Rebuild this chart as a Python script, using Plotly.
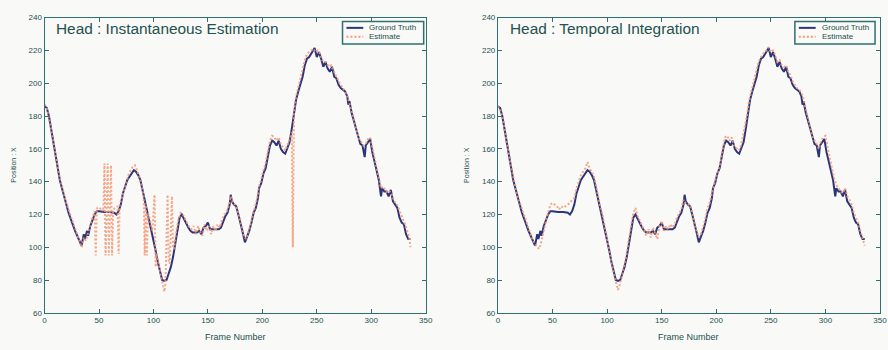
import plotly.graph_objects as go

# ---------------- data ----------------
gt_frames = [0, 2, 4, 6, 8, 10, 12, 14, 16, 18, 20, 22, 24, 26, 28, 30, 32, 34, 36, 37, 39, 40, 42, 44, 46, 48,
             50, 55, 60, 64, 66, 68, 70, 72, 74, 76, 78, 80, 82, 84, 86, 88, 90, 92, 94, 96, 98, 100, 102, 104,
             106, 108, 110, 112, 114, 116, 118, 120, 122, 124, 126, 128, 130, 132, 134, 136, 140, 142, 144, 146,
             148, 150, 152, 156, 160, 162, 164, 166, 168, 170, 171, 172, 174, 176, 178, 180, 182, 184, 186, 188,
             190, 192, 194, 196, 197, 199, 201, 203, 205, 207, 209, 211, 213, 215, 217, 219, 221, 223, 225, 227,
             229, 231, 233, 235, 237, 239, 241, 243, 245, 247, 248, 250, 252, 254, 256, 258, 260, 262, 264, 266,
             268, 270, 272, 276, 278, 279, 280, 282, 284, 286, 288, 290, 292, 294, 295, 297, 299, 301, 303, 305,
             307, 309, 310, 312, 314, 316, 318, 320, 322, 324, 326, 328, 330, 332, 334, 336]
gt_values = [186, 185, 180, 172, 164, 156, 147, 141, 136, 130, 126, 121, 117, 114, 110, 107, 104, 101, 108, 105,
             110, 107, 113, 117, 120, 122, 122, 121.5, 121.5, 121, 120, 122, 126, 133, 137, 141, 143, 145, 147, 146,
             144, 141, 135, 129, 122, 118, 112, 105, 98, 91, 85, 80, 79.5, 80, 84, 88, 94, 103, 111, 118, 120, 117,
             115, 112, 110, 109, 109, 110, 108, 112, 113, 115, 111, 111, 111, 112, 116, 119, 121, 126, 132, 128,
             126, 125, 120, 115, 109, 103, 106, 110, 115, 121, 124, 130, 136, 139, 145, 148, 155, 162, 165, 164,
             162, 165, 160, 158, 157, 160, 164, 172, 180, 190, 195, 199, 204, 211, 215, 216, 218, 220, 221.5, 216,
             219, 215, 210, 213, 209, 207, 210, 204, 203, 199, 197, 195, 192, 187, 189, 182, 177, 172, 167, 163,
             162, 155, 162, 164, 166, 158, 152, 148, 141, 131, 136, 134, 134, 131, 135, 128, 126, 124, 118, 115,
             114, 108, 105, 105]

est_inst_frames = [0, 2, 4, 6, 8, 10, 12, 14, 16, 18, 20, 22, 24, 26, 28, 30, 32, 34, 36, 38, 40, 42, 44, 46, 47,
                   48, 50, 52, 54, 55, 56, 57, 58, 59, 60, 61, 62, 63, 65, 67, 68, 69, 71, 73, 75, 77, 79, 81, 83,
                   85, 87, 89, 91, 92, 93, 94, 95, 97, 99, 101, 102, 103, 105, 107, 109, 110, 111, 113, 114, 115,
                   117, 118, 119, 121, 123, 125, 127, 129, 131, 133, 135, 137, 139, 141, 143, 145, 147, 149, 151,
                   153, 155, 157, 159, 161, 163, 165, 167, 169, 171, 173, 175, 177, 179, 181, 183, 185, 187, 189,
                   191, 193, 195, 197, 199, 201, 203, 205, 207, 209, 211, 213, 215, 217, 219, 221, 223, 225, 227,
                   228, 229, 231, 233, 235, 237, 239, 241, 243, 245, 247, 249, 251, 253, 255, 257, 259, 261, 263,
                   265, 267, 269, 271, 273, 275, 277, 279, 281, 283, 285, 287, 289, 291, 293, 295, 297, 299, 301,
                   303, 305, 307, 309, 311, 313, 315, 317, 319, 321, 323, 325, 327, 329, 331, 333, 335, 336]
est_inst_values = [187, 185, 179, 173, 165, 157, 148, 142, 137, 131, 127, 123, 119, 115, 111, 107, 103, 100, 106,
                   104, 109, 114, 118, 122, 95, 124, 123, 124, 122, 151, 95, 122, 151, 95, 122, 150, 95, 123, 124,
                   125, 96, 126, 130, 135, 140, 144, 147, 149, 150, 147, 143, 138, 131, 95, 127, 95, 121, 116, 110,
                   132, 88, 96, 88, 82, 76, 73, 78, 132, 92, 90, 131, 100, 99, 110, 117, 121, 120, 117, 115, 112,
                   111, 113, 108, 113, 109, 107, 114, 110, 113, 108, 113, 110, 114, 112, 117, 120, 121, 125, 131,
                   127, 126, 123, 118, 112, 107, 105, 109, 113, 119, 124, 129, 137, 141, 147, 151, 158, 165, 168,
                   167, 165, 167, 163, 161, 159, 162, 166, 170, 100, 182, 192, 198, 203, 208, 214, 218, 219, 220,
                   221, 219, 220, 218, 214, 214, 212, 210, 211, 208, 206, 202, 200, 198, 196, 194, 190, 186, 181,
                   175, 170, 166, 164, 162, 163, 166, 167, 161, 155, 150, 143, 136, 137, 135, 133, 134, 132, 128,
                   127, 124, 121, 117, 114, 110, 106, 100]

est_temp_frames = [0, 2, 4, 6, 8, 10, 12, 14, 16, 18, 20, 22, 24, 26, 28, 30, 32, 34, 36, 38, 40, 42, 44, 46, 48,
                   50, 52, 54, 56, 58, 60, 62, 64, 66, 68, 70, 72, 74, 76, 78, 80, 82, 84, 86, 88, 90, 92, 94, 96,
                   98, 100, 102, 104, 106, 108, 110, 112, 114, 116, 118, 120, 122, 124, 126, 128, 130, 132, 134,
                   136, 138, 140, 142, 144, 146, 148, 150, 152, 154, 156, 158, 160, 162, 164, 166, 168, 170, 172,
                   174, 176, 178, 180, 182, 184, 186, 188, 190, 192, 194, 196, 198, 200, 202, 204, 206, 208, 210,
                   212, 214, 216, 218, 220, 222, 224, 226, 228, 230, 232, 234, 236, 238, 240, 242, 244, 246, 248,
                   250, 252, 254, 256, 258, 260, 262, 264, 266, 268, 270, 272, 274, 276, 278, 280, 282, 284, 286,
                   288, 290, 292, 294, 296, 298, 300, 302, 304, 306, 308, 310, 312, 314, 316, 318, 320, 322, 324,
                   326, 328, 330, 332, 334, 336]
est_temp_values = [186, 184, 180, 173, 166, 157, 149, 142, 137, 131, 127, 124, 120, 116, 112, 108, 104, 102, 100,
                   99, 104, 110, 116, 122, 126, 127, 126, 125, 123, 125, 124, 125, 126, 127, 129, 130, 136, 140, 144,
                   146, 148, 152, 148, 146, 143, 137, 130, 124, 119, 112, 104, 97, 90, 84, 79, 74, 78, 84, 89, 96,
                   105, 114, 121, 124, 119, 116, 113, 110, 107, 111, 106, 112, 109, 105, 113, 116, 110, 113, 111,
                   114, 112, 114, 118, 121, 123, 129, 127, 126, 126, 121, 113, 110, 106, 108, 112, 117, 124, 127,
                   133, 139, 143, 147, 152, 160, 167, 168, 165, 167, 162, 161, 159, 160, 166, 172, 180, 189, 195,
                   200, 205, 211, 215, 217, 219, 220, 222, 219, 220, 217, 213, 214, 211, 210, 211, 207, 205, 201,
                   199, 197, 196, 194, 190, 185, 179, 173, 168, 165, 163, 160, 165, 167, 168, 161, 154, 149, 142,
                   138, 136, 134, 133, 136, 131, 129, 126, 121, 118, 115, 110, 106, 101]

titles = ["Head : Instantaneous Estimation", "Head : Temporal Integration"]
series_names = ["Ground Truth", "Estimate"]
x_ticks = [0, 50, 100, 150, 200, 250, 300, 350]
y_ticks = [60, 80, 100, 120, 140, 160, 180, 200, 220, 240]

# ---------------- style ----------------
W, H = 888, 350
GT_COLOR = "#2c3679"
EST_COLOR = "#f39a78"
AX_COLOR = "#2f6f70"
TXT_COLOR = "#24514f"
BG = "#f9f9f7"
FONT = "Liberation Sans, Arial, sans-serif"
EST_DASH = "2px,2px"

fig = go.Figure()

panels = [
    dict(est_f=est_inst_frames, est_v=est_inst_values, xa="x", ya="y"),
    dict(est_f=est_temp_frames, est_v=est_temp_values, xa="x2", ya="y2"),
]
for p in panels:
    fig.add_trace(go.Scatter(x=gt_frames, y=gt_values, mode="lines", name=series_names[0],
                             line=dict(color=GT_COLOR, width=2), xaxis=p["xa"], yaxis=p["ya"],
                             showlegend=False))
    fig.add_trace(go.Scatter(x=p["est_f"], y=p["est_v"], mode="lines", name=series_names[1],
                             line=dict(color=EST_COLOR, width=2, dash=EST_DASH), opacity=0.85,
                             xaxis=p["xa"], yaxis=p["ya"], showlegend=False))

# pixel-based domains
lx0, lx1 = 43, 428
rx0, rx1 = 501, 887
yt, yb = 14, 317
ydom = [(H - yb) / H, (H - yt) / H]

axis_common = dict(showline=True, linecolor=AX_COLOR, linewidth=1, mirror="ticks", ticks="inside",
                   ticklen=4, tickcolor=AX_COLOR, tickwidth=1, showgrid=False, zeroline=False,
                   tickfont=dict(family=FONT, size=8, color=TXT_COLOR))

fig.update_layout(
    width=W, height=H,
    margin=dict(l=0, r=0, t=0, b=0),
    paper_bgcolor=BG, plot_bgcolor=BG,
    font=dict(family=FONT, color=TXT_COLOR),
    xaxis=dict(domain=[lx0 / W, lx1 / W], range=[0, 350], tickvals=x_ticks, anchor="y", **axis_common),
    yaxis=dict(domain=ydom, range=[60, 240], tickvals=y_ticks, anchor="x", **axis_common),
    xaxis2=dict(domain=[rx0 / W, rx1 / W], range=[0, 350], tickvals=x_ticks, anchor="y2", **axis_common),
    yaxis2=dict(domain=ydom, range=[60, 240], tickvals=y_ticks, anchor="x2", **axis_common),
    showlegend=False,
)


def px(x):
    return x / W


def py(y):
    return 1 - y / H


annotations = []
shapes = []
legend_boxes = [(344, 426), (801, 882)]
for i, (x0, x1) in enumerate([(lx0, lx1), (rx0, rx1)]):
    annotations.append(dict(text=titles[i], x=px(x0 + 10), y=py(25), xref="paper", yref="paper",
                            xanchor="left", yanchor="middle", showarrow=False,
                            font=dict(family=FONT, size=15.4, color=TXT_COLOR)))
    annotations.append(dict(text="Frame Number", x=px((x0 + x1) / 2), y=py(342), xref="paper",
                            yref="paper", xanchor="center", yanchor="middle", showarrow=False,
                            font=dict(family=FONT, size=9, color=TXT_COLOR)))
    annotations.append(dict(text="Position : X", x=px(x0 - 31), y=py(165), xref="paper",
                            yref="paper", xanchor="center", yanchor="middle", showarrow=False,
                            textangle=-90, font=dict(family=FONT, size=7, color=TXT_COLOR)))
    # legend box
    bx0, bx1 = legend_boxes[i]
    shapes.append(dict(type="rect", xref="paper", yref="paper", x0=px(bx0), x1=px(bx1), y0=py(41), y1=py(18),
                       line=dict(color=AX_COLOR, width=1.5), fillcolor=BG, layer="above"))
    shapes.append(dict(type="line", xref="paper", yref="paper", x0=px(bx0 + 4), x1=px(bx0 + 21),
                       y0=py(24.5), y1=py(24.5), line=dict(color=GT_COLOR, width=2), layer="above"))
    shapes.append(dict(type="line", xref="paper", yref="paper", x0=px(bx0 + 4), x1=px(bx0 + 21),
                       y0=py(33.5), y1=py(33.5), line=dict(color=EST_COLOR, width=2, dash=EST_DASH),
                       layer="above"))
    annotations.append(dict(text=series_names[0], x=px(bx0 + 25), y=py(24.5), xref="paper", yref="paper",
                            xanchor="left", yanchor="middle", showarrow=False,
                            font=dict(family=FONT, size=8, color=TXT_COLOR)))
    annotations.append(dict(text=series_names[1], x=px(bx0 + 25), y=py(33.5), xref="paper", yref="paper",
                            xanchor="left", yanchor="middle", showarrow=False,
                            font=dict(family=FONT, size=8, color=TXT_COLOR)))
fig.update_layout(annotations=annotations, shapes=shapes)

fig.write_html("out.html", config={"displayModeBar": False},
               post_script="document.body.style.margin='0';document.body.style.overflow='hidden';")
